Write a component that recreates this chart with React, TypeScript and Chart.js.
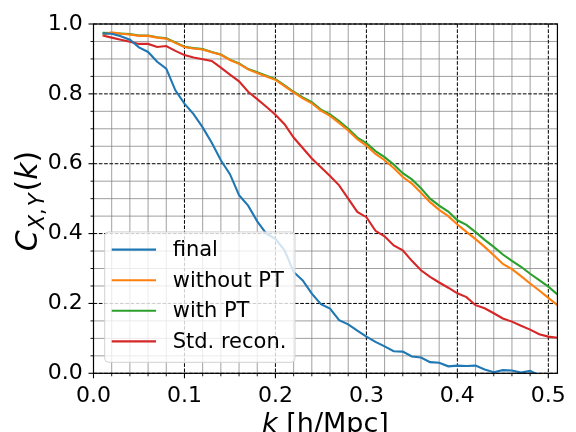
import React, { useEffect, useRef } from "react";
import { Chart, registerables } from "chart.js";

Chart.register(...registerables);

const kValues = [
  0.01, 0.02, 0.03, 0.04, 0.05, 0.06, 0.07, 0.08, 0.09, 0.1,
  0.11, 0.12, 0.13, 0.14, 0.15, 0.16, 0.17, 0.18, 0.19, 0.2,
  0.21, 0.22, 0.23, 0.24, 0.25, 0.26, 0.27, 0.28, 0.29, 0.3,
  0.31, 0.32, 0.33, 0.34, 0.35, 0.36, 0.37, 0.38, 0.39, 0.4,
  0.41, 0.42, 0.43, 0.44, 0.45, 0.46, 0.47, 0.48, 0.49, 0.5, 0.51,
];

const finalValues = [
  0.973, 0.972, 0.965, 0.955, 0.933, 0.92, 0.892, 0.872, 0.81, 0.772,
  0.742, 0.704, 0.66, 0.61, 0.57, 0.51, 0.48, 0.435, 0.4, 0.385,
  0.352, 0.29, 0.266, 0.228, 0.198, 0.185, 0.152, 0.14, 0.122, 0.105,
  0.09, 0.077, 0.063, 0.062, 0.048, 0.045, 0.032, 0.03, 0.02, 0.022,
  0.021, 0.022, 0.011, 0.003, 0.009, 0.008, 0.002, 0.007, -0.006, -0.012, -0.01,
];

const withoutPTValues = [
  0.97, 0.976, 0.972, 0.97, 0.966, 0.966, 0.961, 0.958, 0.946, 0.934,
  0.93, 0.927, 0.919, 0.912, 0.897, 0.886, 0.87, 0.86, 0.85, 0.84,
  0.822, 0.804, 0.787, 0.773, 0.752, 0.737, 0.717, 0.695, 0.67, 0.652,
  0.628, 0.61, 0.588, 0.562, 0.543, 0.517, 0.49, 0.468, 0.45, 0.426,
  0.405, 0.384, 0.362, 0.338, 0.313, 0.298, 0.278, 0.257, 0.237, 0.216, 0.195,
];

const withPTValues = [
  0.975, 0.974, 0.973, 0.971, 0.967, 0.967, 0.962, 0.959, 0.947, 0.935,
  0.931, 0.928, 0.92, 0.913, 0.898, 0.887, 0.871, 0.862, 0.852, 0.842,
  0.824, 0.806, 0.79, 0.776, 0.755, 0.741, 0.722, 0.7, 0.675, 0.659,
  0.636, 0.619, 0.598, 0.573, 0.555, 0.53, 0.5, 0.48, 0.463, 0.438,
  0.425, 0.404, 0.382, 0.362, 0.34, 0.322, 0.305, 0.285, 0.267, 0.248, 0.226,
];

const stdReconValues = [
  0.967, 0.961, 0.955, 0.949, 0.943, 0.943, 0.934, 0.937, 0.923, 0.911,
  0.904, 0.899, 0.894, 0.875, 0.855, 0.836, 0.806, 0.785, 0.763, 0.74,
  0.713, 0.675, 0.645, 0.615, 0.59, 0.565, 0.538, 0.5, 0.462, 0.447,
  0.408, 0.392, 0.366, 0.352, 0.322, 0.295, 0.276, 0.26, 0.245, 0.229,
  0.218, 0.195, 0.186, 0.172, 0.157, 0.148, 0.136, 0.125, 0.112, 0.105, 0.102,
];

const seriesLabels = ["final", "without PT", "with PT", "Std. recon."];
const seriesColors = ["#1f77b4", "#ff7f0e", "#2ca02c", "#d62728"];

const xMajorTicks = [0, 0.1, 0.2, 0.3, 0.4, 0.5];
const yMajorTicks = [0, 0.2, 0.4, 0.6, 0.8, 1.0];
const xMinorTicks = [
  0.02, 0.04, 0.06, 0.08, 0.12, 0.14, 0.16, 0.18, 0.22, 0.24, 0.26, 0.28,
  0.32, 0.34, 0.36, 0.38, 0.42, 0.44, 0.46, 0.48,
];
const yMinorTicks = [
  0.05, 0.1, 0.15, 0.25, 0.3, 0.35, 0.45, 0.5, 0.55, 0.65, 0.7, 0.75, 0.85, 0.9, 0.95,
];

const FONT = '"DejaVu Sans", sans-serif';

const mplPlugin = {
  id: "mplDecor",
  beforeDatasetsDraw(chart: any) {
    const { ctx, chartArea: a, scales } = chart;
    const x = scales.x;
    const y = scales.y;
    ctx.save();
    ctx.lineWidth = 1;
    ctx.strokeStyle = "rgba(128,128,128,0.75)";
    ctx.setLineDash([]);
    for (const v of xMinorTicks) {
      const px = x.getPixelForValue(v);
      ctx.beginPath();
      ctx.moveTo(px, a.top);
      ctx.lineTo(px, a.bottom);
      ctx.stroke();
    }
    for (const v of yMinorTicks) {
      const py = y.getPixelForValue(v);
      ctx.beginPath();
      ctx.moveTo(a.left, py);
      ctx.lineTo(a.right, py);
      ctx.stroke();
    }
    ctx.strokeStyle = "#000";
    ctx.setLineDash([3.7, 1.6]);
    for (const v of xMajorTicks) {
      const px = x.getPixelForValue(v);
      ctx.beginPath();
      ctx.moveTo(px, a.top);
      ctx.lineTo(px, a.bottom);
      ctx.stroke();
    }
    for (const v of yMajorTicks) {
      const py = y.getPixelForValue(v);
      ctx.beginPath();
      ctx.moveTo(a.left, py);
      ctx.lineTo(a.right, py);
      ctx.stroke();
    }
    ctx.restore();
  },
  afterDatasetsDraw(chart: any) {
    const { ctx, chartArea: a, scales } = chart;
    const x = scales.x;
    const y = scales.y;
    ctx.save();
    ctx.setLineDash([]);
    ctx.strokeStyle = "#000";
    // spines
    ctx.lineWidth = 1.2;
    ctx.strokeRect(a.left, a.top, a.right - a.left, a.bottom - a.top);
    // major ticks
    ctx.lineWidth = 1.1;
    for (const v of xMajorTicks) {
      const px = x.getPixelForValue(v);
      ctx.beginPath();
      ctx.moveTo(px, a.bottom);
      ctx.lineTo(px, a.bottom + 5);
      ctx.stroke();
    }
    for (const v of yMajorTicks) {
      const py = y.getPixelForValue(v);
      ctx.beginPath();
      ctx.moveTo(a.left, py);
      ctx.lineTo(a.left - 5, py);
      ctx.stroke();
    }
    ctx.lineWidth = 0.9;
    for (const v of xMinorTicks) {
      const px = x.getPixelForValue(v);
      ctx.beginPath();
      ctx.moveTo(px, a.bottom);
      ctx.lineTo(px, a.bottom + 3);
      ctx.stroke();
    }
    for (const v of yMinorTicks) {
      const py = y.getPixelForValue(v);
      ctx.beginPath();
      ctx.moveTo(a.left, py);
      ctx.lineTo(a.left - 3, py);
      ctx.stroke();
    }

    // legend
    const bx = a.left + 11.2;
    const bw = 190.3;
    const bh = 130.4;
    const by = a.bottom - 11 - bh;
    const r = 4;
    ctx.beginPath();
    ctx.moveTo(bx + r, by);
    ctx.lineTo(bx + bw - r, by);
    ctx.arcTo(bx + bw, by, bx + bw, by + r, r);
    ctx.lineTo(bx + bw, by + bh - r);
    ctx.arcTo(bx + bw, by + bh, bx + bw - r, by + bh, r);
    ctx.lineTo(bx + r, by + bh);
    ctx.arcTo(bx, by + bh, bx, by + bh - r, r);
    ctx.lineTo(bx, by + r);
    ctx.arcTo(bx, by, bx + r, by, r);
    ctx.closePath();
    ctx.fillStyle = "rgba(255,255,255,0.8)";
    ctx.fill();
    ctx.strokeStyle = "rgba(204,204,204,0.9)";
    ctx.lineWidth = 1;
    ctx.stroke();
    ctx.font = `21px ${FONT}`;
    ctx.textBaseline = "middle";
    ctx.textAlign = "left";
    chart.data.datasets.forEach((ds: any, i: number) => {
      const cy = by + 17.7 + i * 30.6;
      ctx.strokeStyle = ds.borderColor;
      ctx.lineWidth = 2.1;
      ctx.beginPath();
      ctx.moveTo(bx + 7, cy);
      ctx.lineTo(bx + 51.3, cy);
      ctx.stroke();
      ctx.fillStyle = "#000";
      ctx.fillText(ds.label, bx + 68, cy + 1);
    });

    // x axis title
    const cx = (a.left + a.right) / 2;
    ctx.fillStyle = "#000";
    ctx.textBaseline = "alphabetic";
    const fi = `italic 27px ${FONT}`;
    const fr = `27px ${FONT}`;
    ctx.font = fi;
    const wk = ctx.measureText("k").width;
    ctx.font = fr;
    const wr = ctx.measureText(" [h/Mpc]").width;
    const sx = cx - (wk + wr) / 2;
    const baseY = 432;
    ctx.font = fi;
    ctx.fillText("k", sx, baseY);
    ctx.font = fr;
    ctx.fillText(" [h/Mpc]", sx + wk, baseY);

    // y axis title
    ctx.save();
    ctx.translate(37, 201);
    ctx.rotate(-Math.PI / 2);
    const yi = `italic 30px ${FONT}`;
    const yr = `30px ${FONT}`;
    const fs = `italic 21px ${FONT}`;
    const fsr = `21px ${FONT}`;
    const parts: [string, string, number, number][] = [
      ["C", yi, 0, 1],
      ["X", fs, 7, 0],
      [",", fsr, 7, 2],
      ["Y", fs, 7, 2],
      ["(", yr, 0, 0],
      ["k", yi, 0, 0],
      [")", yr, 0, 0],
    ];
    let total = 0;
    const widths = parts.map((p) => {
      ctx.font = p[1];
      const w = ctx.measureText(p[0]).width + p[3];
      total += w;
      return w;
    });
    let px0 = -total / 2;
    parts.forEach((p, i) => {
      ctx.font = p[1];
      ctx.fillText(p[0], px0, p[2]);
      px0 += widths[i];
    });
    ctx.restore();

    ctx.restore();
  },
};

export default function App() {
  const canvasRef = useRef<HTMLCanvasElement | null>(null);

  useEffect(() => {
    const canvas = canvasRef.current;
    if (!canvas) return;
    const seriesData = [finalValues, withoutPTValues, withPTValues, stdReconValues];
    const chart = new Chart(canvas, {
      type: "line",
      data: {
        datasets: seriesData.map((vals, i) => ({
          label: seriesLabels[i],
          data: kValues.map((k, j) => ({ x: k, y: vals[j] })),
          borderColor: seriesColors[i],
          backgroundColor: seriesColors[i],
          borderWidth: 2.1,
          pointRadius: 0,
          tension: 0,
          fill: false,
        })),
      },
      options: {
        responsive: false,
        animation: false,
        devicePixelRatio: 1,
        layout: { padding: { top: 20.3, right: 9, left: 0, bottom: 0 } },
        plugins: { legend: { display: false }, tooltip: { enabled: false } },
        scales: {
          x: {
            type: "linear",
            min: 0,
            max: 0.51,
            grid: { display: false, drawTicks: false, tickLength: 0 },
            border: { display: false },
            afterBuildTicks: (scale: any) => {
              scale.ticks = xMajorTicks.map((v) => ({ value: v }));
            },
            afterFit: (scale: any) => {
              scale.height = 58.7;
            },
            ticks: {
              autoSkip: false,
              maxRotation: 0,
              color: "#000",
              padding: 10,
              font: { family: FONT, size: 22 },
              callback: (v: any) => Number(v).toFixed(1),
            },
          },
          y: {
            type: "linear",
            min: 0,
            max: 1,
            grid: { display: false, drawTicks: false, tickLength: 0 },
            border: { display: false },
            afterBuildTicks: (scale: any) => {
              scale.ticks = yMajorTicks.map((v) => ({ value: v }));
            },
            afterFit: (scale: any) => {
              scale.width = 93.5;
            },
            ticks: {
              autoSkip: false,
              color: "#000",
              padding: 10.8,
              font: { family: FONT, size: 22 },
              callback: (v: any) => Number(v).toFixed(1),
            },
          },
        },
      },
      plugins: [mplPlugin],
    } as any);
    return () => chart.destroy();
  }, []);

  return (
    <div style={{ position: "absolute", left: 0, top: 0, width: 576, height: 432, background: "#fff" }}>
      <canvas ref={canvasRef} width={576} height={432} style={{ width: 576, height: 432 }} />
    </div>
  );
}
